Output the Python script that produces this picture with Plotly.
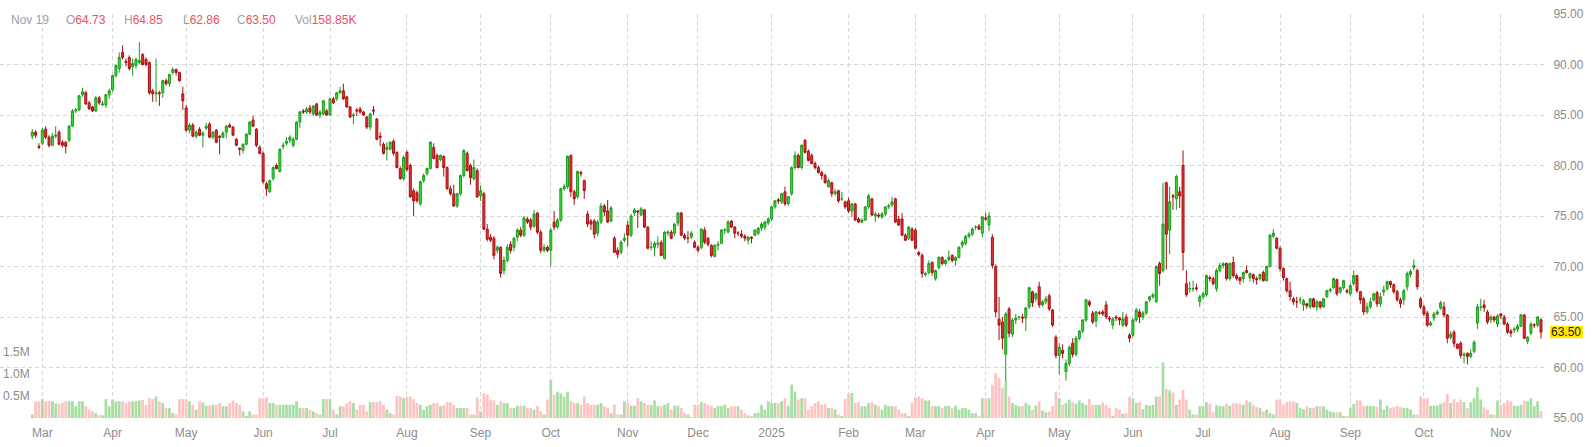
import pandas as pd
import plotly.graph_objects as go

# ---------------- data ----------------
open_ = [
    82.9, 83.3, 81.9,
    82.2, 83.6, 82.8, 82.0, 82.9, 83.3, 82.3, 82.3, 82.5, 83.9, 85.4, 85.5, 87.0, 87.2, 86.2, 85.8, 85.4, 86.7, 86.0, 86.0, 87.0,
    87.5, 88.9, 89.6, 91.2, 90.3, 90.7, 89.8, 89.9, 90.2, 91.0, 90.5, 90.2, 87.4, 87.1, 87.2, 87.2, 88.4, 88.1, 89.2, 89.5, 89.2, 87.1,
    85.7, 83.5, 84.0, 82.9, 83.6, 83.0, 83.7, 84.1, 82.8, 83.5, 82.9, 82.8, 83.3, 84.0, 83.8, 82.6, 81.7, 81.5, 82.1, 83.1, 84.5, 83.6, 81.8,
    81.2, 78.2, 77.4, 78.7, 80.0, 79.4, 81.9, 82.2, 82.5, 82.0, 82.6, 84.3, 85.4, 85.3, 85.7, 85.1, 86.1, 85.0, 85.1, 85.4,
    85.0, 86.6, 86.6, 87.2, 87.4, 86.8, 85.8, 84.9, 85.5, 85.6, 85.3, 84.8, 83.8, 85.5, 84.6, 82.9, 82.1, 81.6, 81.6, 82.4, 81.3, 79.7, 78.7,
    81.3, 80.0, 77.5, 77.3, 76.2, 78.5, 79.2, 79.7, 81.8, 81.0, 80.6, 80.9, 79.8, 77.7, 77.2, 76.0, 77.2, 79.0, 81.2, 80.0, 78.7, 79.5,
    77.0, 77.2, 73.7, 72.9, 72.8, 71.6, 71.9, 69.6, 70.6, 72.2, 71.9, 72.9, 73.6, 73.1, 74.7, 74.6, 74.0, 75.3, 73.4, 71.6, 71.9,
    71.6, 74.4, 73.9, 74.6, 77.7, 77.9, 81.0, 77.4, 76.9, 79.3, 78.5, 75.2, 74.5, 74.5, 73.3, 74.4, 76.0, 75.5, 74.5, 72.8, 71.6, 71.4, 72.6,
    74.1, 73.1, 75.3, 75.5, 75.1, 75.6, 73.9, 71.9, 71.9, 72.2, 72.4, 70.8, 73.3, 73.4, 73.3, 74.3, 75.3, 73.1, 72.8, 72.9, 72.4,
    71.9, 71.9, 73.6, 72.8, 72.1, 71.0, 72.1, 72.3, 73.6, 73.4, 74.5, 73.9, 73.3, 73.2, 73.0, 72.6, 72.9, 73.1, 73.3, 73.8, 73.9, 74.3,
    74.7, 75.9, 76.6, 76.4, 77.4, 76.2, 77.2, 79.8, 81.0, 79.8, 82.5, 81.4, 81.0, 80.2, 79.8, 79.3, 79.0, 77.9, 78.3, 77.2, 77.5, 76.7, 76.4,
    76.5, 75.5, 76.2, 74.7, 74.4, 74.6, 75.9, 76.7, 75.0, 75.1, 74.9, 75.2, 75.9, 76.1, 76.7, 74.7, 74.7, 73.1, 72.8, 73.7,
    73.6, 71.4, 71.1, 69.2, 69.4, 70.4, 68.8, 69.9, 70.9, 70.3, 70.7, 71.1, 70.6, 70.9, 72.1, 72.3, 73.0, 73.2, 73.9, 74.0, 73.3,
    74.8, 74.1, 72.9, 70.0, 64.8, 64.5, 61.3, 65.8, 63.3, 64.7, 65.0, 65.0, 64.9, 66.0, 67.5, 66.8, 68.0, 66.2, 66.5, 67.1, 65.7, 63.0,
    61.2, 61.7, 59.6, 60.4, 62.4, 61.3, 62.9, 63.6, 64.7, 66.5, 65.4, 64.6, 65.4, 65.5, 66.2, 64.9, 64.2, 65.0, 64.9, 64.2, 65.0, 63.2,
    63.2, 64.7, 65.5, 65.0, 65.4, 66.7, 67.0, 66.5, 70.3, 69.6, 78.3, 73.6, 77.0, 76.7, 77.4, 80.0, 68.3, 67.8, 67.8, 67.9, 66.5,
    67.0, 67.2, 68.9, 68.8, 67.8, 69.6, 70.1, 70.3, 68.8, 70.4, 69.1, 68.9, 68.8, 69.6, 68.9, 69.2, 68.8, 68.8, 69.4, 68.6, 70.0, 73.0, 72.8,
    71.8, 69.8, 68.8, 67.6, 66.8, 66.5, 66.7, 66.2, 66.3, 66.0, 66.8, 66.0, 66.5, 66.0, 67.0, 67.6, 67.9, 68.7, 67.5, 67.9, 67.6,
    67.3, 68.3, 69.1, 67.5, 66.8, 65.5, 66.0, 66.7, 67.4, 66.3, 67.5, 67.8, 68.5, 68.2, 67.5, 66.7, 66.7, 68.0, 69.2, 69.9, 69.6, 66.8,
    66.0, 65.4, 64.2, 64.9, 65.3, 65.9, 66.0, 65.2, 63.0, 63.5, 62.3, 62.4, 61.2, 61.4, 61.1, 61.6, 64.4, 66.0, 66.2, 65.5, 64.7, 65.0, 64.3,
    65.3, 65.0, 64.3, 63.6, 63.7, 63.8, 64.1, 65.2, 62.6, 63.4, 64.2, 64.2, 64.73,
]

high = [
    83.6, 83.5, 82.2,
    83.7, 83.9, 83.0, 83.2, 83.9, 83.5, 82.5, 82.4, 84.0, 85.6, 85.7, 87.0, 87.7, 87.4, 86.4, 85.9, 86.9, 86.9, 86.4, 87.1, 87.6,
    89.0, 90.0, 91.2, 91.9, 90.6, 90.9, 90.6, 90.7, 92.2, 91.1, 90.7, 90.3, 87.6, 90.6, 87.4, 88.5, 88.6, 89.1, 89.7, 89.6, 89.3, 87.8,
    86.0, 84.2, 84.2, 83.5, 83.8, 83.4, 84.2, 84.3, 83.4, 83.6, 83.0, 83.4, 84.0, 84.2, 83.9, 82.7, 81.8, 82.2, 83.2, 84.4, 84.9, 83.7, 82.0,
    81.4, 78.4, 78.6, 79.9, 80.2, 81.7, 82.3, 82.8, 83.0, 82.8, 84.4, 85.4, 85.6, 85.8, 86.0, 86.0, 86.2, 85.5, 86.5, 85.6,
    86.7, 86.8, 87.3, 87.8, 88.1, 86.9, 85.9, 85.2, 85.7, 85.8, 85.4, 84.9, 85.2, 85.9, 84.7, 83.3, 82.3, 82.3, 82.4, 82.6, 81.4, 79.9, 81.0,
    81.5, 80.2, 77.7, 77.5, 78.5, 79.2, 79.8, 82.4, 82.2, 81.2, 81.1, 81.0, 79.9, 78.0, 78.1, 77.3, 79.1, 81.6, 81.4, 80.2, 80.6, 79.7,
    78.0, 77.4, 74.2, 73.2, 73.0, 72.1, 72.0, 71.0, 72.2, 72.5, 72.9, 73.8, 73.9, 75.0, 74.9, 74.8, 75.6, 75.4, 73.6, 72.2, 72.1,
    73.8, 75.5, 74.8, 77.8, 78.2, 81.0, 81.1, 77.6, 79.5, 79.5, 78.6, 75.5, 74.7, 74.7, 74.6, 76.3, 76.2, 76.6, 76.0, 73.0, 71.9, 72.6, 73.3,
    74.5, 75.2, 75.8, 75.6, 75.9, 75.7, 74.0, 72.5, 72.5, 73.0, 72.6, 73.5, 73.6, 73.6, 74.3, 75.4, 75.4, 73.3, 73.5, 73.5, 72.6,
    72.1, 73.8, 73.9, 72.9, 72.2, 72.2, 72.5, 73.7, 73.8, 74.6, 74.6, 74.0, 73.5, 73.6, 73.2, 73.0, 73.0, 73.7, 73.9, 74.4, 74.5, 74.9,
    76.0, 76.6, 76.8, 77.3, 77.9, 77.0, 79.9, 81.4, 81.2, 82.1, 82.6, 81.6, 81.2, 80.4, 80.0, 79.5, 79.2, 78.7, 78.4, 77.7, 77.6, 77.4, 76.5,
    76.8, 76.3, 76.3, 74.9, 74.8, 76.0, 77.2, 76.8, 75.4, 75.3, 75.4, 76.0, 76.2, 76.9, 76.8, 75.0, 75.3, 73.3, 74.0, 73.9,
    73.8, 71.5, 71.3, 69.5, 70.6, 70.5, 69.7, 71.0, 71.0, 70.7, 71.6, 71.2, 71.0, 72.0, 72.6, 73.1, 73.4, 73.9, 74.1, 74.2, 75.0,
    75.3, 75.4, 73.2, 70.2, 67.0, 65.0, 65.5, 66.0, 64.9, 65.3, 65.1, 65.3, 66.0, 68.0, 67.6, 67.4, 68.5, 66.7, 67.1, 67.3, 65.8, 63.2,
    62.4, 62.3, 60.8, 62.2, 62.9, 63.1, 63.7, 64.8, 66.8, 66.7, 65.6, 65.6, 65.6, 65.7, 66.6, 65.1, 65.0, 65.2, 65.0, 65.5, 65.3, 63.4,
    64.9, 65.9, 65.8, 65.6, 66.6, 67.1, 67.4, 70.1, 70.5, 78.3, 78.4, 77.9, 77.2, 79.1, 77.9, 81.5, 69.6, 68.5, 68.6, 68.3, 67.2,
    67.5, 69.2, 69.1, 69.0, 69.8, 70.4, 70.4, 70.4, 70.4, 71.0, 69.3, 69.0, 69.5, 70.1, 69.4, 69.3, 69.0, 69.3, 69.6, 70.1, 73.2, 73.7, 72.9,
    72.0, 69.9, 68.9, 68.5, 67.0, 67.0, 67.0, 66.8, 66.4, 66.9, 66.9, 66.7, 66.6, 66.9, 67.7, 67.9, 68.9, 68.8, 68.0, 68.7, 67.8,
    68.3, 69.6, 69.2, 67.6, 67.0, 66.4, 66.9, 67.4, 67.6, 67.4, 68.1, 68.6, 68.6, 68.3, 67.7, 66.9, 67.8, 69.5, 69.7, 70.7, 69.8, 67.0,
    66.2, 65.6, 64.6, 65.5, 65.7, 66.6, 66.5, 65.3, 63.6, 63.7, 62.4, 62.6, 61.5, 61.5, 61.8, 62.7, 66.3, 66.8, 66.7, 65.7, 65.2, 65.1, 65.3,
    65.4, 65.2, 64.5, 63.8, 64.0, 64.3, 65.3, 65.3, 63.1, 64.5, 64.4, 65.1, 64.85,
]

low = [
    82.6, 82.7, 81.6,
    82.0, 82.6, 81.8, 81.9, 82.7, 82.0, 81.8, 81.2, 82.3, 83.8, 85.2, 85.4, 86.8, 86.0, 85.5, 85.3, 85.3, 86.0, 85.9, 85.7, 86.6,
    87.3, 88.7, 89.2, 90.5, 89.8, 89.4, 88.9, 89.6, 90.0, 89.9, 89.8, 87.0, 86.3, 86.3, 85.9, 86.7, 87.9, 87.8, 89.0, 88.9, 88.3, 85.5,
    83.3, 83.2, 82.8, 82.7, 82.9, 81.8, 83.5, 82.7, 82.6, 82.2, 81.1, 82.7, 82.7, 83.7, 82.9, 81.9, 81.0, 81.2, 82.0, 83.0, 83.8, 81.8, 81.1,
    78.2, 77.0, 77.3, 78.5, 79.6, 79.3, 81.6, 82.0, 82.2, 81.8, 82.5, 83.7, 85.1, 85.1, 85.1, 84.9, 84.9, 84.7, 85.0, 84.9,
    84.9, 86.1, 86.4, 87.1, 86.5, 85.7, 84.7, 84.1, 84.9, 85.1, 84.9, 83.6, 83.5, 85.0, 82.5, 81.9, 81.1, 80.5, 81.5, 81.0, 79.7, 78.6, 78.5,
    79.4, 76.8, 75.0, 76.3, 76.0, 78.3, 79.0, 79.6, 80.6, 79.7, 80.4, 78.9, 77.6, 77.0, 75.9, 75.8, 77.0, 78.8, 79.4, 78.1, 78.5, 76.8,
    76.5, 73.6, 72.5, 72.4, 70.7, 71.3, 68.9, 69.2, 70.4, 71.3, 71.5, 72.5, 72.9, 72.9, 74.2, 73.6, 73.8, 73.2, 71.3, 71.4, 71.4,
    70.0, 73.6, 73.7, 74.4, 77.5, 77.7, 76.9, 76.1, 76.7, 78.9, 76.7, 73.9, 73.6, 72.8, 73.0, 74.2, 75.0, 74.3, 74.4, 71.4, 70.8, 71.2, 72.4,
    72.0, 72.9, 75.0, 73.8, 75.0, 73.8, 71.7, 71.6, 71.0, 71.8, 71.0, 70.7, 73.0, 72.7, 73.0, 74.0, 73.0, 72.6, 72.3, 72.7, 71.8,
    71.4, 71.7, 72.2, 72.0, 70.9, 70.9, 71.6, 72.2, 73.2, 73.3, 73.8, 72.8, 73.0, 72.8, 72.5, 72.2, 72.3, 73.0, 73.1, 73.5, 73.6, 74.1,
    74.5, 75.7, 76.2, 76.2, 76.0, 76.0, 77.0, 79.6, 79.7, 79.6, 81.2, 80.4, 80.1, 79.6, 79.2, 78.6, 78.2, 77.8, 76.9, 77.0, 76.3, 76.5, 75.7,
    75.3, 74.9, 74.5, 74.3, 74.3, 74.5, 75.7, 75.0, 74.4, 74.8, 74.7, 75.0, 75.7, 75.9, 74.3, 74.0, 73.0, 72.5, 72.6, 72.5,
    71.7, 71.0, 68.9, 69.0, 69.2, 69.1, 68.6, 69.7, 70.1, 70.1, 70.5, 70.4, 70.1, 70.8, 71.8, 72.1, 72.8, 73.0, 73.6, 73.6, 72.9,
    74.5, 73.5, 69.8, 65.0, 62.7, 61.8, 58.4, 63.0, 63.0, 64.3, 64.7, 64.4, 63.6, 65.8, 66.0, 66.5, 65.9, 66.0, 66.3, 65.6, 64.0, 60.9,
    59.3, 60.9, 58.7, 60.1, 61.0, 61.1, 62.7, 63.4, 64.5, 66.0, 64.3, 64.0, 65.2, 65.1, 64.8, 64.5, 63.8, 64.6, 64.2, 64.0, 64.0, 62.5,
    63.0, 64.5, 64.4, 64.7, 65.2, 66.5, 66.8, 66.4, 68.1, 69.4, 69.7, 71.2, 75.6, 75.6, 75.8, 69.6, 67.0, 67.4, 67.5, 67.6, 66.0,
    66.7, 67.0, 68.5, 68.1, 67.5, 69.4, 69.8, 68.6, 68.6, 68.9, 68.6, 68.2, 68.4, 69.3, 68.5, 68.4, 68.2, 68.6, 68.5, 68.5, 69.9, 72.8, 71.7,
    69.5, 68.6, 67.4, 66.6, 66.2, 65.9, 66.3, 65.6, 65.8, 65.8, 65.9, 65.6, 65.8, 65.9, 66.9, 67.4, 67.8, 67.1, 67.3, 67.7, 67.3,
    67.1, 68.1, 67.4, 66.3, 65.2, 65.3, 65.8, 66.5, 66.0, 66.0, 67.1, 67.6, 67.9, 67.3, 66.5, 65.9, 66.2, 67.6, 68.9, 69.6, 67.7, 65.8,
    65.1, 64.0, 64.1, 64.6, 65.2, 65.7, 65.0, 62.4, 62.8, 62.0, 61.8, 60.9, 60.4, 60.3, 60.9, 61.4, 63.8, 65.6, 65.5, 64.3, 64.4, 64.5, 64.0,
    64.8, 64.2, 63.3, 63.0, 63.4, 63.5, 64.0, 62.8, 62.3, 63.2, 63.9, 64.0, 62.86,
]

close = [
    83.3, 83.0, 81.8,
    83.5, 82.8, 82.0, 82.9, 83.0, 82.1, 82.0, 81.9, 83.9, 85.4, 85.5, 86.9, 87.3, 86.1, 85.6, 85.4, 86.7, 86.2, 86.1, 87.0, 87.4,
    88.9, 89.9, 90.7, 90.7, 90.2, 89.6, 90.1, 90.5, 90.4, 90.0, 90.0, 87.2, 87.1, 87.2, 87.1, 88.4, 88.1, 89.0, 89.5, 89.2, 88.4, 86.4,
    83.5, 84.0, 82.9, 83.3, 83.0, 83.2, 83.9, 82.8, 83.3, 82.3, 82.8, 83.2, 83.9, 83.8, 83.0, 82.0, 81.6, 82.1, 83.1, 84.3, 83.9, 82.0, 81.2,
    78.4, 77.7, 78.5, 79.8, 79.7, 81.6, 82.0, 82.4, 82.8, 82.6, 84.3, 85.3, 85.3, 85.6, 85.3, 85.9, 85.0, 85.3, 86.4, 85.0,
    86.6, 86.2, 87.2, 87.4, 86.6, 85.8, 84.8, 85.0, 85.4, 85.3, 85.0, 83.8, 85.1, 85.4, 82.6, 82.8, 81.2, 81.8, 82.3, 81.2, 79.8, 78.7, 80.8,
    79.6, 76.9, 76.5, 76.5, 78.4, 79.0, 79.7, 82.3, 80.7, 79.8, 81.0, 79.8, 77.7, 77.2, 76.0, 77.2, 79.0, 81.5, 79.5, 78.8, 79.8, 76.9,
    77.5, 73.7, 72.7, 72.6, 71.1, 71.9, 69.3, 70.6, 71.9, 71.6, 72.8, 73.6, 73.1, 74.8, 74.4, 73.9, 75.2, 73.4, 71.6, 71.9, 71.6,
    73.6, 73.9, 74.6, 77.7, 77.9, 80.9, 77.4, 76.7, 79.4, 79.2, 77.5, 74.2, 74.2, 73.2, 74.4, 76.0, 75.4, 74.4, 75.8, 71.4, 71.2, 72.4, 72.8,
    73.1, 75.0, 75.6, 75.4, 75.7, 73.9, 71.8, 71.9, 72.3, 72.3, 71.1, 73.4, 73.4, 72.8, 74.2, 75.3, 73.1, 72.8, 72.8, 73.3, 71.9,
    71.6, 73.7, 72.4, 72.2, 71.1, 72.1, 72.2, 73.6, 73.6, 74.4, 73.9, 73.3, 73.3, 73.0, 72.8, 72.9, 72.8, 73.6, 73.8, 74.2, 74.4, 74.7,
    75.9, 76.5, 76.5, 77.2, 76.2, 76.9, 79.8, 81.0, 79.8, 82.0, 81.3, 80.5, 80.2, 79.8, 79.3, 79.0, 78.3, 78.5, 77.2, 77.4, 76.5, 76.7, 75.9,
    75.5, 76.2, 74.6, 74.4, 74.6, 75.9, 77.0, 75.1, 75.2, 75.0, 75.2, 75.9, 76.0, 76.4, 74.4, 74.1, 73.1, 72.6, 73.9, 72.6,
    71.8, 71.2, 69.3, 69.3, 70.3, 69.4, 69.6, 70.9, 70.3, 70.6, 70.9, 70.6, 70.9, 71.9, 72.4, 73.0, 73.2, 73.7, 73.9, 73.7, 74.9,
    74.7, 75.0, 70.1, 65.5, 64.2, 62.9, 65.3, 63.4, 64.7, 64.9, 65.0, 64.9, 65.9, 67.9, 66.4, 67.3, 66.2, 66.5, 66.8, 65.8, 64.2, 61.2,
    62.0, 61.4, 60.4, 62.0, 61.3, 62.9, 63.6, 64.7, 66.7, 66.2, 64.5, 65.5, 65.4, 65.3, 65.0, 64.8, 64.8, 64.9, 64.7, 64.8, 64.2, 62.9,
    64.7, 65.7, 65.0, 65.4, 66.5, 67.0, 67.2, 70.0, 69.3, 74.2, 73.2, 76.4, 76.9, 78.9, 77.0, 71.4, 67.2, 67.8, 67.8, 67.8, 67.0,
    67.3, 69.1, 68.8, 68.3, 69.6, 70.1, 70.3, 68.8, 70.3, 69.1, 68.8, 68.6, 69.4, 69.4, 69.3, 68.8, 68.7, 69.2, 68.6, 70.0, 73.1, 73.3, 71.8,
    69.8, 68.9, 67.6, 67.0, 66.5, 66.5, 66.7, 66.6, 66.1, 66.8, 66.0, 66.5, 66.0, 66.8, 67.6, 67.7, 68.8, 67.3, 67.9, 68.6, 67.5,
    68.1, 69.1, 67.6, 66.7, 65.5, 66.0, 66.5, 67.3, 66.3, 67.0, 67.7, 68.5, 68.2, 67.5, 66.7, 66.3, 67.6, 69.3, 69.5, 70.1, 68.0, 66.0,
    65.3, 64.2, 64.4, 65.3, 65.5, 66.4, 65.2, 62.9, 63.3, 62.4, 61.9, 61.2, 61.3, 61.1, 61.4, 62.5, 66.0, 66.0, 65.9, 64.5, 65.0, 64.7, 65.1,
    65.1, 64.3, 63.5, 63.4, 63.8, 64.1, 65.2, 62.9, 63.0, 64.3, 64.2, 65.0, 63.50,
]

# volume in thousands of shares
volume_k = [
    80, 380, 380,
    430, 380, 380, 380, 330, 320, 350, 380, 380, 380, 270, 380, 380, 270, 190, 150, 110, 70, 60, 430, 270,
    420, 380, 380, 380, 340, 370, 380, 380, 400, 410, 300, 450, 430, 490, 380, 340, 230, 230, 110, 80, 430, 430,
    430, 380, 300, 190, 380, 350, 280, 280, 300, 300, 340, 270, 270, 340, 400, 340, 300, 150, 40, 150, 80, 80, 450,
    450, 470, 340, 340, 300, 300, 300, 300, 300, 300, 380, 230, 230, 230, 190, 150, 110, 80, 430, 430,
    430, 190, 80, 270, 270, 340, 380, 340, 190, 300, 300, 150, 360, 360, 360, 380, 300, 190, 110, 80, 500, 490, 450,
    480, 490, 430, 340, 300, 190, 270, 300, 340, 340, 270, 300, 360, 360, 300, 230, 230, 230, 230, 80, 80, 470,
    150, 560, 530, 420, 400, 300, 380, 340, 340, 230, 230, 280, 280, 280, 230, 230, 190, 270, 150, 80, 420,
    870, 530, 600, 560, 490, 600, 380, 340, 340, 300, 490, 340, 300, 300, 300, 340, 270, 230, 110, 300, 80, 80, 380,
    340, 280, 280, 450, 380, 340, 300, 300, 400, 270, 270, 300, 340, 190, 280, 280, 230, 110, 80, 20, 300,
    300, 360, 340, 300, 280, 230, 270, 270, 300, 230, 270, 270, 270, 190, 110, 60, 40, 110, 120, 300, 190, 380,
    340, 340, 340, 380, 450, 280, 760, 600, 420, 450, 450, 190, 270, 340, 380, 300, 320, 230, 230, 200, 80, 40, 430,
    550, 570, 340, 360, 270, 270, 340, 360, 300, 270, 190, 300, 270, 270, 270, 190, 110, 110, 40, 340,
    470, 490, 450, 400, 400, 270, 270, 270, 230, 270, 280, 230, 280, 190, 230, 230, 190, 110, 110, 40, 450,
    450, 450, 760, 1020, 910, 680, 830, 490, 340, 300, 270, 270, 340, 300, 190, 280, 380, 170, 130, 150, 270, 600,
    450, 300, 340, 420, 360, 330, 400, 340, 300, 430, 300, 300, 300, 360, 300, 230, 40, 230, 190, 100, 110, 490,
    450, 340, 360, 200, 300, 280, 300, 490, 490, 1265, 660, 630, 580, 300, 420, 640, 420, 190, 80, 80, 270,
    270, 360, 320, 130, 300, 270, 270, 330, 280, 340, 340, 320, 300, 400, 360, 300, 250, 230, 150, 190, 110, 80, 420,
    420, 300, 360, 380, 380, 340, 230, 200, 270, 230, 230, 270, 270, 270, 190, 150, 130, 130, 130, 40, 50,
    230, 320, 400, 400, 270, 280, 270, 270, 250, 420, 190, 280, 230, 250, 270, 250, 230, 230, 190, 80, 80, 490,
    450, 450, 280, 280, 280, 320, 360, 550, 340, 430, 360, 420, 360, 230, 360, 450, 700, 420, 240, 190, 80, 80, 400,
    300, 340, 400, 380, 280, 270, 300, 400, 380, 450, 270, 380, 158.85,
]

month_labels = ["Mar", "Apr", "May", "Jun", "Jul", "Aug", "Sep", "Oct", "Nov", "Dec", "2025",
                "Feb", "Mar", "Apr", "May", "Jun", "Jul", "Aug", "Sep", "Oct", "Nov"]
price_ticks = [55, 60, 65, 70, 75, 80, 85, 90, 95]
vol_ticks = [500, 1000, 1500]
vol_tick_text = ["0.5M", "1.0M", "1.5M"]

# ---------------- build ----------------
days = pd.bdate_range("2024-02-27", "2025-11-19")
dates = days.strftime("%Y-%m-%d").tolist()
n = len(dates)
lens = {k: len(v) for k, v in dict(o=open_, h=high, l=low, c=close, v=volume_k).items()}
if any(v != n for v in lens.values()):
    raise SystemExit(f"length mismatch: dates={n} {lens}")

s = pd.Series(dates, index=days)
first_of_month = s.groupby([days.year, days.month]).first().tolist()[1:]  # skip Feb 2024

FONT = "Liberation Sans, Arial, sans-serif"
AX_COL = "#8c8c8c"
GRID = "#d6d6d6"
DASH = "4px,3px"

vol_colors = ["#a8dea3" if c >= o else "#ffc3c3" for o, c in zip(open_, close)]

fig = go.Figure()
fig.add_trace(go.Bar(
    x=dates, y=volume_k, yaxis="y2", marker=dict(color=vol_colors, line=dict(width=0)),
    width=0.82, hoverinfo="skip", showlegend=False,
))
fig.add_trace(go.Candlestick(
    x=dates, open=open_, high=high, low=low, close=close,
    increasing=dict(line=dict(color="#1d9a1d", width=1), fillcolor="#36e036"),
    decreasing=dict(line=dict(color="#a81010", width=1), fillcolor="#e8333b"),
    whiskerwidth=0, showlegend=False, hoverinfo="skip",
))

W_PLOT = 1545.0
TOP, BOT = 14, 29
ph = 447 - TOP - BOT

def yp(px):
    return 1 - (px - TOP) / ph

legend_items = [
    (9, "<span style='color:#9aa0ad'>Nov 19</span>"),
    (64, "<span style='color:#9aa0ad'>O</span><span style='color:#f0505a'>64.73</span>"),
    (122, "<span style='color:#9aa0ad'>H</span><span style='color:#f0505a'>64.85</span>"),
    (181, "<span style='color:#9aa0ad'>L</span><span style='color:#f0505a'>62.86</span>"),
    (235, "<span style='color:#9aa0ad'>C</span><span style='color:#f0505a'>63.50</span>"),
    (293, "<span style='color:#9aa0ad'>Vol</span><span style='color:#f0505a'>158.85K</span>"),
]
annotations = [
    dict(x=px / W_PLOT, y=yp(20), xref="paper", yref="paper", xanchor="left", yanchor="middle",
         text=t, showarrow=False, font=dict(family=FONT, size=12))
    for px, t in legend_items
]
annotations.append(dict(
    x=1566.5 / W_PLOT, y=close[-1], xref="paper", yref="y", xanchor="center", yanchor="middle",
    text="63.50", showarrow=False, font=dict(family=FONT, size=12, color="#222222"),
))

fig.update_layout(
    width=1593, height=447,
    margin=dict(l=0, r=48, t=TOP, b=BOT, pad=0),
    paper_bgcolor="white", plot_bgcolor="white",
    font=dict(family=FONT, size=12, color=AX_COL),
    showlegend=False, hovermode=False, boxgap=0.15,
    xaxis=dict(
        type="category", range=[-9.65, 452.2],
        tickmode="array", tickvals=first_of_month, ticktext=month_labels,
        showgrid=True, gridcolor=GRID, griddash=DASH, gridwidth=1,
        ticks="outside", ticklen=4, tickcolor="rgba(0,0,0,0)",
        tickfont=dict(family=FONT, size=12, color=AX_COL),
        showline=False, zeroline=False, rangeslider=dict(visible=False),
    ),
    yaxis=dict(
        side="right", range=[55, 95], tickmode="array", tickvals=price_ticks, tickformat=".2f",
        showgrid=True, gridcolor=GRID, griddash=DASH, gridwidth=1,
        ticks="outside", ticklen=5, tickcolor="rgba(0,0,0,0)",
        tickfont=dict(family=FONT, size=12, color=AX_COL),
        showline=False, zeroline=False,
    ),
    yaxis2=dict(
        overlaying="y", side="left", range=[0, 9200],
        tickmode="array", tickvals=vol_ticks, ticktext=vol_tick_text,
        ticklabelposition="inside", ticks="", showgrid=False, zeroline=False, showline=False,
        tickfont=dict(family=FONT, size=12, color=AX_COL),
    ),
    shapes=[dict(
        type="rect", xref="paper", yref="y", layer="above",
        x0=1550 / W_PLOT, x1=1583 / W_PLOT, y0=close[-1] - 0.6, y1=close[-1] + 0.6,
        fillcolor="#ffe800", line=dict(width=0),
    )],
    annotations=annotations,
)

fig.write_html(
    "out.html",
    config={"displayModeBar": False},
    post_script="document.body.style.margin='0';document.body.style.overflow='hidden';",
)
